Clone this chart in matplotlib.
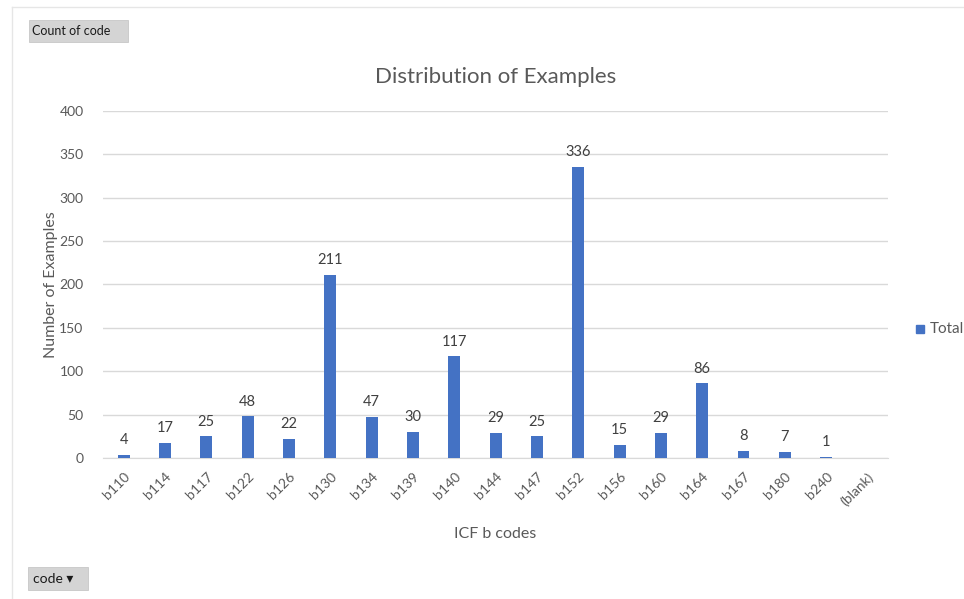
import matplotlib
matplotlib.use("Agg")
import matplotlib.pyplot as plt
from matplotlib.patches import FancyBboxPatch
from matplotlib.lines import Line2D

codes = ["b110", "b114", "b117", "b122", "b126", "b130", "b134", "b139", "b140",
         "b144", "b147", "b152", "b156", "b160", "b164", "b167", "b180", "b240",
         "(blank)"]
counts = [4, 17, 25, 48, 22, 211, 47, 30, 117, 29, 25, 336, 15, 29, 86, 8, 7, 1, None]
y_ticks = [0, 50, 100, 150, 200, 250, 300, 350, 400]

BLUE = "#4472C4"
GREY_TEXT = "#595959"
GRID = "#D9D9D9"

plt.rcParams["font.family"] = ["Lato", "DejaVu Sans"]

fig = plt.figure(figsize=(9.64, 5.99), dpi=100)
ax = fig.add_axes([0.1068, 0.2354, 0.8145, 0.5793])

positions = list(range(len(codes)))
heights = [c if c is not None else 0 for c in counts]
bars = ax.bar(positions, heights, width=0.29, color=BLUE, zorder=3)

for bar, c in zip(bars, counts):
    if c is None:
        continue
    ax.text(bar.get_x() + bar.get_width() / 2, c + 9, str(c),
            ha="center", va="bottom", fontsize=10.5, color="#404040")

ax.set_xlim(-0.5, len(codes) - 0.5)
ax.set_ylim(0, 400)
ax.set_yticks(y_ticks)
ax.set_xticks(positions)
ax.set_xticklabels(codes, rotation=45, ha="right", rotation_mode="anchor")
ax.tick_params(axis="both", length=0, labelsize=10, colors=GREY_TEXT)
ax.tick_params(axis="x", pad=9)
ax.tick_params(axis="y", pad=14)
ax.grid(axis="y", color=GRID, linewidth=1, zorder=0)
for side in ["top", "right", "left"]:
    ax.spines[side].set_visible(False)
ax.spines["bottom"].set_color(GRID)

ax.set_title("Distribution of Examples", fontsize=16, color=GREY_TEXT, pad=20)
ax.set_ylabel("Number of Examples", fontsize=11.5, color=GREY_TEXT, labelpad=1)
ax.set_xlabel("ICF b codes", fontsize=11.5, color=GREY_TEXT, labelpad=14)

# legend sitting at the right edge
fig.text(0.9645, 0.4505, "Total", fontsize=11, color=GREY_TEXT, va="center")
fig.patches.append(FancyBboxPatch((0.9505, 0.4445), 0.0085, 0.0135,
                                  boxstyle="square,pad=0", transform=fig.transFigure,
                                  color=BLUE))

# chart frame lines from the surrounding sheet
fig.add_artist(Line2D([0.012, 1.0], [0.988, 0.988], color="#E6E6E6", lw=1))
fig.add_artist(Line2D([0.012, 0.012], [0.0, 0.988], color="#E6E6E6", lw=1))

# pivot field buttons
fig.patches.append(FancyBboxPatch((0.030, 0.930), 0.103, 0.036,
                                  boxstyle="square,pad=0", transform=fig.transFigure,
                                  facecolor="#D4D4D4", edgecolor="#C0C0C0", lw=0.5))
fig.text(0.0335, 0.948, "Count of code", fontsize=9, color="#1a1a1a", va="center",
         fontstretch="condensed")
fig.patches.append(FancyBboxPatch((0.029, 0.015), 0.062, 0.038,
                                  boxstyle="square,pad=0", transform=fig.transFigure,
                                  facecolor="#D4D4D4", edgecolor="#C0C0C0", lw=0.5))
fig.text(0.034, 0.034, "code \u25BE", fontsize=10, color="#1a1a1a", va="center",
         family=["Lato", "DejaVu Sans"])

fig.savefig("out.png", dpi=100)
